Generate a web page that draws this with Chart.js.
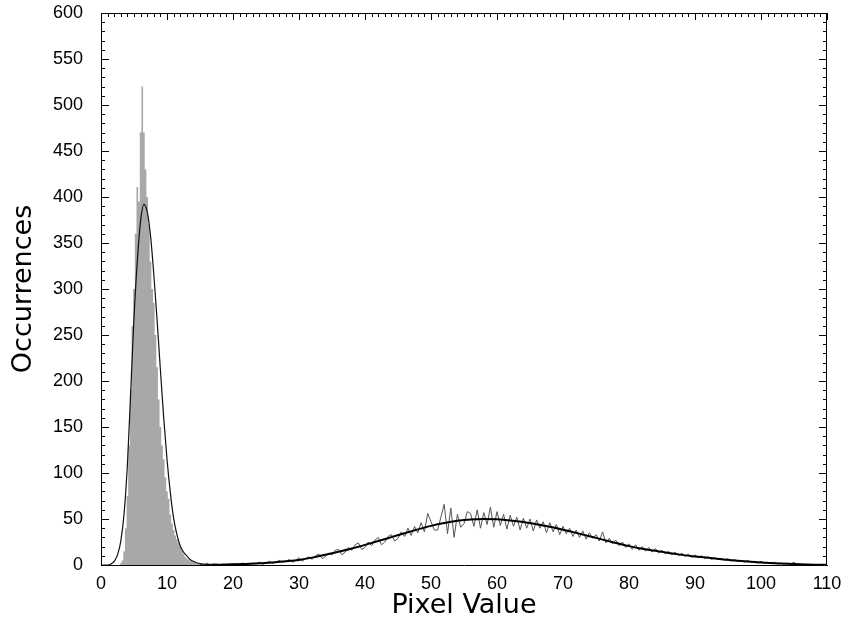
<!DOCTYPE html>
<html>
<head>
<meta charset="utf-8">
<script src="https://cdn.jsdelivr.net/npm/chart.js@4.4.0/dist/chart.umd.min.js"></script>
<style>
    html, body { margin: 0; padding: 0; background: #fff; }
    #wrap { width: 849px; height: 624px; position: relative; }
</style>
</head>
<body>
<div id="wrap"><canvas id="histChart"></canvas></div>
<script>
// Tick labels
const xTickValues = [0, 10, 20, 30, 40, 50, 60, 70, 80, 90, 100, 110];
const yTickValues = [0, 50, 100, 150, 200, 250, 300, 350, 400, 450, 500, 550, 600];

// First population: filled histogram (bin centre, count)
const hist1Bins = [2.5, 2.75, 3, 3.25, 3.5, 3.75, 4, 4.25, 4.5, 4.75, 5, 5.25, 5.5, 5.75,
    6, 6.25, 6.5, 6.75, 7, 7.25, 7.5, 7.75, 8, 8.25, 8.5, 8.75, 9, 9.25, 9.5, 9.75,
    10, 10.25, 10.5, 10.75, 11, 11.25, 11.5, 11.75, 12, 12.25, 12.5, 12.75, 13, 13.25,
    13.5, 13.75, 14, 14.25, 14.5, 14.75, 15, 15.25, 15.5, 15.75, 16, 16.25];
const hist1Counts = [0, 0, 2, 5, 15, 40, 75, 130, 190, 260, 300, 360, 411, 395,
    470, 520, 470, 430, 400, 370, 330, 300, 285, 250, 215, 180, 150, 130, 115, 95,
    80, 72, 55, 45, 38, 32, 28, 24, 20, 16, 12, 9, 7, 6,
    5, 4, 4, 3, 2, 2, 2, 1, 1, 1, 1, 0];

// Second population: noisy histogram
const hist2Bins = [15, 15.5, 16, 16.5, 17, 17.5, 18, 18.5, 19, 19.5, 20, 20.5, 21, 21.5, 22, 22.5,
    23, 23.5, 24, 24.5, 25, 25.5, 26, 26.5, 27, 27.5, 28, 28.5, 29, 29.5, 30, 30.5,
    31, 31.5, 32, 32.5, 33, 33.5, 34, 34.5, 35, 35.5, 36, 36.5, 37, 37.5, 38, 38.5,
    39, 39.5, 40, 40.5, 41, 41.5, 42, 42.5, 43, 43.5, 44, 44.5, 45, 45.5, 46, 46.5,
    47, 47.5, 48, 48.5, 49, 49.5, 50, 50.5, 51, 51.5, 52, 52.5, 53, 53.5, 54, 54.5,
    55, 55.5, 56, 56.5, 57, 57.5, 58, 58.5, 59, 59.5, 60, 60.5, 61, 61.5, 62, 62.5,
    63, 63.5, 64, 64.5, 65, 65.5, 66, 66.5, 67, 67.5, 68, 68.5, 69, 69.5, 70, 70.5,
    71, 71.5, 72, 72.5, 73, 73.5, 74, 74.5, 75, 75.5, 76, 76.5, 77, 77.5, 78, 78.5,
    79, 79.5, 80, 80.5, 81, 81.5, 82, 82.5, 83, 83.5, 84, 84.5, 85, 85.5, 86, 86.5,
    87, 87.5, 88, 88.5, 89, 89.5, 90, 90.5, 91, 91.5, 92, 92.5, 93, 93.5, 94, 94.5,
    95, 95.5, 96, 96.5, 97, 97.5, 98, 98.5, 99, 99.5, 100, 100.5, 101, 101.5, 102, 102.5,
    103, 103.5, 104, 104.5, 105, 105.5, 106];
const hist2Counts = [1, 0, 2, 0, 1, 1, 0, 1, 0, 1, 1, 0, 1, 2, 1, 0,
    2, 1, 3, 1, 2, 4, 2, 3, 5, 3, 4, 6, 3, 5, 8, 4,
    7, 9, 6, 10, 12, 7, 9, 13, 11, 16, 17, 11, 14, 19, 16, 22,
    24, 17, 19, 25, 21, 27, 30, 22, 25, 31, 33, 26, 29, 36, 31, 40,
    32, 42, 35, 46, 36, 56, 47, 38, 38, 52, 66, 34, 62, 30, 55, 41,
    45, 58, 56, 42, 60, 40, 57, 44, 63, 41, 58, 43, 55, 39, 54, 42,
    52, 38, 51, 40, 50, 37, 49, 40, 47, 35, 46, 36, 44, 33, 42, 34,
    40, 31, 38, 30, 37, 28, 35, 29, 33, 26, 36, 24, 29, 23, 27, 21,
    25, 19, 23, 17, 22, 16, 20, 15, 19, 14, 18, 13, 16, 12, 15, 11,
    14, 10, 13, 9, 12, 8, 11, 8, 10, 7, 9, 6, 8, 6, 7, 5,
    7, 4, 6, 4, 5, 3, 5, 3, 4, 2, 4, 2, 3, 2, 3, 1,
    2, 1, 2, 1, 3, 0, 1];

// Fitted curves
const fit1X = [0, 0.5, 1, 1.5, 2, 2.5, 3, 3.5, 4, 4.5, 5, 5.5, 6, 6.5, 7, 7.5, 8, 8.5,
    9, 9.5, 10, 10.5, 11, 11.5, 12, 12.5, 13, 13.5, 14, 14.5, 15, 15.5, 16, 17, 18];
const fit1Y = [0, 0, 0, 1, 4, 11, 26, 56, 109, 188, 269, 330, 374, 392, 384, 358, 316, 266,
    212, 160, 115, 79, 51, 33, 21, 14, 10, 6, 4, 2.5, 1.5, 1, 0.5, 0.2, 0];

const fit2X = [16, 18, 20, 22, 24, 26, 28, 30, 32, 34, 36, 38, 40, 42, 44, 46, 48, 50,
    52, 54, 56, 58, 60, 62, 64, 66, 68, 70, 72, 74, 76, 78, 80, 82, 84, 86,
    88, 90, 92, 94, 96, 98, 100, 102, 104, 106, 108, 110];
const fit2Y = [0.2, 0.4, 0.7, 1.2, 1.8, 2.8, 4, 5.5, 8, 11.2, 14.5, 18, 21.9, 26, 30.3, 34.6, 38.7, 42.5,
    45.6, 48, 49.5, 50, 49.6, 48.5, 46.8, 44.4, 41.6, 38.4, 34.9, 31.3, 27.6, 24, 20.5, 17.6, 15.5, 13,
    11, 9.3, 7.8, 6.3, 5, 3.8, 2.8, 2, 1.3, 0.8, 0.4, 0.2];

const toPoints = (xs, ys) => xs.map((v, i) => ({ x: v, y: ys[i] }));

// Box on top/right and inward tick marks, like the original plot frame
const frameTicks = {
    id: 'frameTicks',
    afterDatasetsDraw(chart) {
        const { ctx, chartArea: a, scales: { x, y } } = chart;
        ctx.save();
        ctx.strokeStyle = '#000';
        ctx.lineWidth = 1;
        ctx.beginPath();
        ctx.moveTo(a.left, a.top + 0.5);
        ctx.lineTo(a.right, a.top + 0.5);
        ctx.moveTo(a.right - 0.5, a.top);
        ctx.lineTo(a.right - 0.5, a.bottom);
        for (let v = 0; v <= 110; v += 1) {
            const px = Math.round(x.getPixelForValue(v)) + 0.5;
            const len = v % 10 === 0 ? 7 : 4;
            ctx.moveTo(px, a.top);
            ctx.lineTo(px, a.top + len);
        }
        for (let v = 0; v <= 600; v += 10) {
            const py = Math.round(y.getPixelForValue(v)) + 0.5;
            const len = v % 50 === 0 ? 8 : 4;
            ctx.moveTo(a.left, py);
            ctx.lineTo(a.left + len, py);
            ctx.moveTo(a.right, py);
            ctx.lineTo(a.right - len, py);
        }
        ctx.stroke();
        ctx.restore();
    }
};

const tickFont = { family: 'Liberation Sans', size: 18 };
const titleFont = { family: 'DejaVu Sans', size: 27, lineHeight: 1 };

const ctx = document.getElementById('histChart').getContext('2d');
new Chart(ctx, {
    type: 'line',
    data: {
        datasets: [{
            label: 'Fit 1',
            data: toPoints(fit1X, fit1Y),
            borderColor: '#111',
            borderWidth: 1.2,
            cubicInterpolationMode: 'monotone',
            pointRadius: 0,
            fill: false,
            order: 0
        }, {
            label: 'Fit 2',
            data: toPoints(fit2X, fit2Y),
            borderColor: '#000',
            borderWidth: 2,
            cubicInterpolationMode: 'monotone',
            pointRadius: 0,
            fill: false,
            order: 0
        }, {
            label: 'Histogram 2',
            data: toPoints(hist2Bins, hist2Counts),
            borderColor: '#555',
            borderWidth: 1,
            pointRadius: 0,
            fill: false,
            order: 1
        }, {
            label: 'Histogram 1',
            data: toPoints(hist1Bins, hist1Counts),
            borderColor: 'rgba(0,0,0,0)',
            borderWidth: 0,
            backgroundColor: '#a8a8a8',
            stepped: 'middle',
            pointRadius: 0,
            fill: 'origin',
            order: 2
        }]
    },
    options: {
        responsive: true,
        maintainAspectRatio: false,
        animation: false,
        layout: {
            padding: { left: 0, top: 13, right: 22, bottom: 0 }
        },
        scales: {
            x: {
                type: 'linear',
                min: 0,
                max: 110,
                afterBuildTicks: (scale) => {
                    scale.ticks = xTickValues.map(v => ({ value: v }));
                },
                afterFit: (scale) => {
                    scale.height = 59;
                    scale.paddingLeft = 0;
                    scale.paddingRight = 0;
                },
                ticks: {
                    color: '#000',
                    font: tickFont,
                    padding: 8,
                    maxRotation: 0,
                    autoSkip: false
                },
                grid: { display: false, drawTicks: false },
                border: { display: true, color: '#000', width: 1 },
                title: {
                    display: true,
                    text: 'Pixel Value',
                    color: '#000',
                    font: titleFont,
                    padding: { top: 0, bottom: 5 }
                }
            },
            y: {
                type: 'linear',
                min: 0,
                max: 600,
                afterBuildTicks: (scale) => {
                    scale.ticks = yTickValues.map(v => ({ value: v }));
                },
                afterFit: (scale) => {
                    scale.width = 101;
                    scale.paddingTop = 0;
                    scale.paddingBottom = 0;
                },
                ticks: {
                    color: '#000',
                    font: tickFont,
                    padding: 18,
                    autoSkip: false
                },
                grid: { display: false, drawTicks: false },
                border: { display: true, color: '#000', width: 1 },
                title: {
                    display: true,
                    text: 'Occurrences',
                    color: '#000',
                    font: titleFont,
                    padding: { top: 10, bottom: 0 }
                }
            }
        },
        plugins: {
            legend: { display: false },
            tooltip: { enabled: false }
        }
    },
    plugins: [frameTicks]
});
</script>
</body>
</html>
